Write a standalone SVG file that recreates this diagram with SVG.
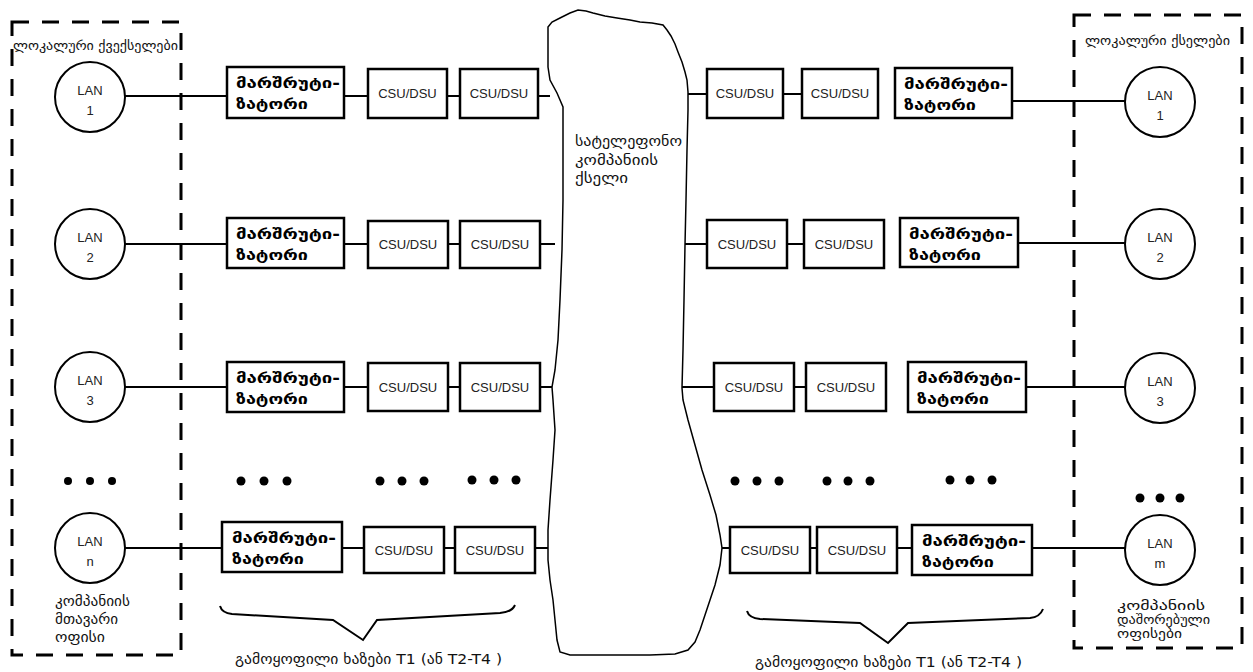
<svg xmlns="http://www.w3.org/2000/svg" width="1253" height="672" viewBox="0 0 1253 672">
<style>
.box{fill:#fff;stroke:#000;stroke-width:2.5}
.ln{stroke:#000;stroke-width:2;fill:none}
.dash{fill:none;stroke:#000;stroke-width:3;stroke-dasharray:17 13}
.lan{fill:#fff;stroke:#000;stroke-width:2}
.t{font-family:"Liberation Sans",Arial,sans-serif;font-size:13px;text-anchor:middle;fill:#222}
.geo{font-family:"DejaVu Sans",sans-serif;fill:#111}
.rt{font-family:"DejaVu Sans",sans-serif;font-weight:bold;font-size:15px;fill:#000}
.dot{fill:#000}
</style>
<rect width="1253" height="672" fill="#fff"/>
<g id="left-region">
<rect class="dash" x="12" y="22" width="169" height="633"/>
<text class="geo" x="13" y="50" font-size="12" textLength="165" lengthAdjust="spacingAndGlyphs">ლოკალური ქვექსელები</text>
<text class="geo" x="55" y="606" font-size="13.5" textLength="75" lengthAdjust="spacingAndGlyphs">კომპანიის</text>
<text class="geo" x="55" y="624" font-size="13.5" textLength="63" lengthAdjust="spacingAndGlyphs">მთავარი</text>
<text class="geo" x="55" y="642" font-size="13.5" textLength="50" lengthAdjust="spacingAndGlyphs">ოფისი</text>
</g>
<g id="right-region">
<rect class="dash" x="1074" y="15" width="168" height="633"/>
<text class="geo" x="1085" y="45" font-size="12" textLength="145" lengthAdjust="spacingAndGlyphs">ლოკალური ქსელები</text>
<text class="geo" x="1117" y="610" font-size="13" textLength="88" lengthAdjust="spacingAndGlyphs">კომპანიის</text>
<text class="geo" x="1117" y="624" font-size="13" textLength="93" lengthAdjust="spacingAndGlyphs">დაშორებული</text>
<text class="geo" x="1117" y="638" font-size="13" textLength="65" lengthAdjust="spacingAndGlyphs">ოფისები</text>
</g>
<g id="connectors">
<line class="ln" x1="125" y1="96" x2="227" y2="96"/>
<line class="ln" x1="344" y1="96" x2="368" y2="96"/>
<line class="ln" x1="447" y1="96" x2="460" y2="96"/>
<line class="ln" x1="538" y1="96" x2="550" y2="96"/>
<line class="ln" x1="125" y1="244" x2="227" y2="244"/>
<line class="ln" x1="344" y1="244" x2="368" y2="244"/>
<line class="ln" x1="448" y1="244" x2="460" y2="244"/>
<line class="ln" x1="540" y1="244" x2="555" y2="244"/>
<line class="ln" x1="125" y1="387" x2="227" y2="387"/>
<line class="ln" x1="344" y1="387" x2="368" y2="387"/>
<line class="ln" x1="448" y1="387" x2="460" y2="387"/>
<line class="ln" x1="540" y1="387" x2="553" y2="387"/>
<line class="ln" x1="125" y1="548" x2="222" y2="548"/>
<line class="ln" x1="342" y1="548" x2="364" y2="548"/>
<line class="ln" x1="444" y1="548" x2="455" y2="548"/>
<line class="ln" x1="535" y1="548" x2="549" y2="548"/>
<line class="ln" x1="687" y1="94" x2="707" y2="94"/>
<line class="ln" x1="783" y1="94" x2="802" y2="94"/>
<line class="ln" x1="1012" y1="101" x2="1125" y2="101"/>
<line class="ln" x1="685" y1="244" x2="707" y2="244"/>
<line class="ln" x1="787" y1="244" x2="804" y2="244"/>
<line class="ln" x1="1018" y1="243" x2="1125" y2="243"/>
<line class="ln" x1="682" y1="387" x2="714" y2="387"/>
<line class="ln" x1="794" y1="387" x2="806" y2="387"/>
<line class="ln" x1="1026" y1="387" x2="1125" y2="387"/>
<line class="ln" x1="721" y1="548" x2="730" y2="548"/>
<line class="ln" x1="810" y1="548" x2="817" y2="548"/>
<line class="ln" x1="897" y1="548" x2="912" y2="548"/>
<line class="ln" x1="1032" y1="548" x2="1125" y2="548"/>
</g>
<g id="cloud">
<path fill="#fff" stroke="#000" stroke-width="1.5" d="M548,27 L552,22 L560,18 L570,13 L578,10 L586,11 L593,13 L605,16 L617,18 L630,20 L640,22 L652,23 L663,25 L667,30 L671,36 L675,44 L678,52 L682,62 L685,72 L687,80 L688,92 L688,110 L687,150 L686,200 L685,245 L684,300 L683,350 L682,388 L683,400 L688,420 L695,445 L702,470 L710,495 L716,515 L720,535 L722,548 L720,565 L715,585 L710,600 L705,615 L700,630 L695,642 L688,650 L675,654 L650,655 L620,655 L590,655 L570,655 L560,652 L557,640 L555,620 L553,600 L550,580 L548,560 L548,548 L548,530 L550,500 L553,460 L555,430 L553,400 L552,387 L555,370 L558,340 L560,300 L562,250 L563,200 L563,150 L563,107 L557,93 L550,80 L548,67 Z"/>
<text class="geo" x="575" y="146" font-size="14" textLength="107" lengthAdjust="spacingAndGlyphs">სატელეფონო</text>
<text class="geo" x="575" y="165" font-size="14" textLength="83" lengthAdjust="spacingAndGlyphs">კომპანიის</text>
<text class="geo" x="575" y="183" font-size="14" textLength="53" lengthAdjust="spacingAndGlyphs">ქსელი</text>
</g>
<g id="lan-l1"><circle class="lan" cx="90" cy="97" r="35"/><text class="t" x="90" y="95">LAN</text><text class="t" x="90" y="115">1</text></g>
<g id="lan-l2"><circle class="lan" cx="90" cy="244" r="35"/><text class="t" x="90" y="242">LAN</text><text class="t" x="90" y="262">2</text></g>
<g id="lan-l3"><circle class="lan" cx="90" cy="387" r="35"/><text class="t" x="90" y="385">LAN</text><text class="t" x="90" y="405">3</text></g>
<g id="lan-ln"><circle class="lan" cx="90" cy="548" r="35"/><text class="t" x="90" y="546">LAN</text><text class="t" x="90" y="566">n</text></g>
<g id="lan-r1"><circle class="lan" cx="1160" cy="102" r="35"/><text class="t" x="1160" y="100">LAN</text><text class="t" x="1160" y="120">1</text></g>
<g id="lan-r2"><circle class="lan" cx="1160" cy="244" r="35"/><text class="t" x="1160" y="242">LAN</text><text class="t" x="1160" y="262">2</text></g>
<g id="lan-r3"><circle class="lan" cx="1160" cy="388" r="35"/><text class="t" x="1160" y="386">LAN</text><text class="t" x="1160" y="406">3</text></g>
<g id="lan-rm"><circle class="lan" cx="1160" cy="550" r="35"/><text class="t" x="1160" y="548">LAN</text><text class="t" x="1160" y="568">m</text></g>
<g id="router-l1"><rect class="box" x="227" y="67" width="117" height="51"/><text class="rt" x="236" y="88" textLength="104" lengthAdjust="spacingAndGlyphs">მარშრუტი-</text><text class="rt" x="236" y="109" textLength="72" lengthAdjust="spacingAndGlyphs">ზატორი</text></g>
<g id="router-l2"><rect class="box" x="227" y="218" width="117" height="50"/><text class="rt" x="236" y="239" textLength="104" lengthAdjust="spacingAndGlyphs">მარშრუტი-</text><text class="rt" x="236" y="260" textLength="72" lengthAdjust="spacingAndGlyphs">ზატორი</text></g>
<g id="router-l3"><rect class="box" x="227" y="362" width="117" height="50"/><text class="rt" x="236" y="383" textLength="104" lengthAdjust="spacingAndGlyphs">მარშრუტი-</text><text class="rt" x="236" y="404" textLength="72" lengthAdjust="spacingAndGlyphs">ზატორი</text></g>
<g id="router-l4"><rect class="box" x="222" y="522" width="120" height="50"/><text class="rt" x="232" y="543" textLength="104" lengthAdjust="spacingAndGlyphs">მარშრუტი-</text><text class="rt" x="232" y="564" textLength="72" lengthAdjust="spacingAndGlyphs">ზატორი</text></g>
<g id="csu-l1a"><rect class="box" x="368" y="69" width="79" height="49"/><text class="t" x="407.5" y="98">CSU/DSU</text></g>
<g id="csu-l1b"><rect class="box" x="460" y="69" width="78" height="49"/><text class="t" x="499" y="98">CSU/DSU</text></g>
<g id="csu-l2a"><rect class="box" x="368" y="221" width="80" height="47"/><text class="t" x="408" y="249">CSU/DSU</text></g>
<g id="csu-l2b"><rect class="box" x="460" y="221" width="80" height="47"/><text class="t" x="500" y="249">CSU/DSU</text></g>
<g id="csu-l3a"><rect class="box" x="368" y="363" width="80" height="48"/><text class="t" x="408" y="392">CSU/DSU</text></g>
<g id="csu-l3b"><rect class="box" x="460" y="363" width="80" height="48"/><text class="t" x="500" y="392">CSU/DSU</text></g>
<g id="csu-l4a"><rect class="box" x="364" y="527" width="80" height="46"/><text class="t" x="404" y="555">CSU/DSU</text></g>
<g id="csu-l4b"><rect class="box" x="455" y="527" width="80" height="46"/><text class="t" x="495" y="555">CSU/DSU</text></g>
<g id="csu-r1a"><rect class="box" x="707" y="69" width="76" height="49"/><text class="t" x="745" y="98">CSU/DSU</text></g>
<g id="csu-r1b"><rect class="box" x="802" y="69" width="76" height="49"/><text class="t" x="840" y="98">CSU/DSU</text></g>
<g id="csu-r2a"><rect class="box" x="707" y="220" width="80" height="48"/><text class="t" x="747" y="249">CSU/DSU</text></g>
<g id="csu-r2b"><rect class="box" x="804" y="220" width="80" height="48"/><text class="t" x="844" y="249">CSU/DSU</text></g>
<g id="csu-r3a"><rect class="box" x="714" y="363" width="80" height="48"/><text class="t" x="754" y="392">CSU/DSU</text></g>
<g id="csu-r3b"><rect class="box" x="806" y="363" width="80" height="48"/><text class="t" x="846" y="392">CSU/DSU</text></g>
<g id="csu-r4a"><rect class="box" x="730" y="527" width="80" height="46"/><text class="t" x="770" y="555">CSU/DSU</text></g>
<g id="csu-r4b"><rect class="box" x="817" y="527" width="80" height="46"/><text class="t" x="857" y="555">CSU/DSU</text></g>
<g id="router-r1"><rect class="box" x="895" y="68" width="117" height="50"/><text class="rt" x="904" y="89" textLength="104" lengthAdjust="spacingAndGlyphs">მარშრუტი-</text><text class="rt" x="904" y="110" textLength="72" lengthAdjust="spacingAndGlyphs">ზატორი</text></g>
<g id="router-r2"><rect class="box" x="900" y="218" width="118" height="49"/><text class="rt" x="909" y="239" textLength="104" lengthAdjust="spacingAndGlyphs">მარშრუტი-</text><text class="rt" x="909" y="260" textLength="72" lengthAdjust="spacingAndGlyphs">ზატორი</text></g>
<g id="router-r3"><rect class="box" x="908" y="362" width="118" height="50"/><text class="rt" x="917" y="383" textLength="104" lengthAdjust="spacingAndGlyphs">მარშრუტი-</text><text class="rt" x="917" y="404" textLength="72" lengthAdjust="spacingAndGlyphs">ზატორი</text></g>
<g id="router-r4"><rect class="box" x="912" y="525" width="120" height="50"/><text class="rt" x="922" y="546" textLength="104" lengthAdjust="spacingAndGlyphs">მარშრუტი-</text><text class="rt" x="922" y="567" textLength="72" lengthAdjust="spacingAndGlyphs">ზატორი</text></g>
<g id="dots">
<circle class="dot" cx="68" cy="481" r="4"/><circle class="dot" cx="90" cy="481" r="4"/><circle class="dot" cx="112" cy="481" r="4"/>
<circle class="dot" cx="241" cy="481" r="4.5"/><circle class="dot" cx="264" cy="481" r="4.5"/><circle class="dot" cx="287" cy="481" r="4.5"/>
<circle class="dot" cx="380" cy="481" r="4.5"/><circle class="dot" cx="402" cy="481" r="4.5"/><circle class="dot" cx="424" cy="481" r="4.5"/>
<circle class="dot" cx="472" cy="480" r="4.5"/><circle class="dot" cx="494" cy="480" r="4.5"/><circle class="dot" cx="516" cy="480" r="4.5"/>
<circle class="dot" cx="735" cy="481" r="4.5"/><circle class="dot" cx="757" cy="481" r="4.5"/><circle class="dot" cx="779" cy="481" r="4.5"/>
<circle class="dot" cx="827" cy="481" r="4.5"/><circle class="dot" cx="848" cy="481" r="4.5"/><circle class="dot" cx="870" cy="481" r="4.5"/>
<circle class="dot" cx="950" cy="480" r="4.5"/><circle class="dot" cx="970" cy="480" r="4.5"/><circle class="dot" cx="992" cy="480" r="4.5"/>
<circle class="dot" cx="1140" cy="498" r="4.5"/><circle class="dot" cx="1160" cy="498" r="4.5"/><circle class="dot" cx="1180" cy="498" r="4.5"/>
</g>
<g id="brace-left">
<path class="ln" d="M220,606 Q222,613 232,614 L333,620 L363,640 L377,620 L500,613 Q512,612 515,605"/>
<text class="geo" x="235" y="664" font-size="14" textLength="267" lengthAdjust="spacingAndGlyphs">გამოყოფილი ხაზები T1 (ან T2-T4 )</text>
</g>
<g id="brace-right">
<path class="ln" d="M747,611 Q749,618 760,619 L860,623 L888,643 L908,623 L1030,618 Q1040,617 1043,609"/>
<text class="geo" x="755" y="667" font-size="14" textLength="267" lengthAdjust="spacingAndGlyphs">გამოყოფილი ხაზები T1 (ან T2-T4 )</text>
</g>
</svg>
